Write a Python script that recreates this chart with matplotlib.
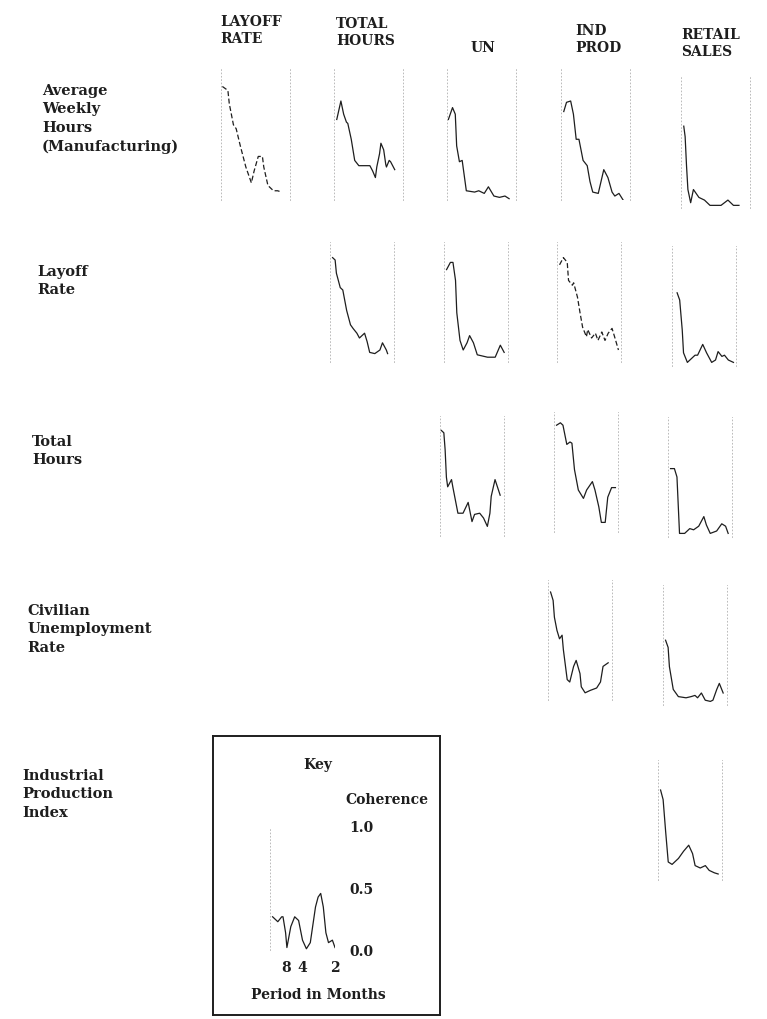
# Coherence matrix between business-cycle indicators
# Small multiples: coherence (0..1) against frequency (0..0.5 cycles/month)
import matplotlib.pyplot as plt

# ─── DATA ─────────────────────────────────────────────────────
COLUMNS = ["LAYOFF\nRATE", "TOTAL\nHOURS", "UN", "IND\nPROD", "RETAIL\nSALES"]
ROWS = ["Average\nWeekly\nHours\n(Manufacturing)", "Layoff\nRate", "Total\nHours",
        "Civilian\nUnemployment\nRate", "Industrial\nProduction\nIndex"]

# row: Average Weekly Hours
AWH_LAYOFF_F = [0.01, 0.05, 0.06, 0.09, 0.11, 0.14, 0.18, 0.22, 0.24, 0.27, 0.30, 0.31, 0.34, 0.38, 0.41, 0.44]
AWH_LAYOFF_C = [0.86, 0.83, 0.73, 0.57, 0.54, 0.41, 0.25, 0.13, 0.22, 0.33, 0.33, 0.25, 0.11, 0.07, 0.07, 0.06]
AWH_HOURS_F = [0.02, 0.05, 0.07, 0.09, 0.10, 0.125, 0.15, 0.18, 0.26, 0.28, 0.30, 0.31, 0.33, 0.34,
               0.36, 0.375, 0.38, 0.40, 0.41, 0.44]
AWH_HOURS_C = [0.61, 0.75, 0.65, 0.59, 0.58, 0.46, 0.30, 0.26, 0.26, 0.22, 0.17, 0.25, 0.35, 0.43,
               0.38, 0.27, 0.25, 0.30, 0.29, 0.23]
AWH_UN_F = [0.01, 0.04, 0.06, 0.07, 0.09, 0.11, 0.14, 0.20, 0.23, 0.27, 0.30, 0.34, 0.38, 0.42, 0.45]
AWH_UN_C = [0.61, 0.70, 0.65, 0.41, 0.29, 0.30, 0.07, 0.06, 0.07, 0.05, 0.10, 0.03, 0.02, 0.03, 0.01]
AWH_IP_F = [0.02, 0.04, 0.07, 0.09, 0.11, 0.13, 0.16, 0.19, 0.21, 0.23, 0.27, 0.29, 0.31, 0.34,
            0.37, 0.39, 0.42, 0.45]
AWH_IP_C = [0.67, 0.74, 0.75, 0.65, 0.46, 0.46, 0.30, 0.26, 0.14, 0.06, 0.05, 0.14, 0.23, 0.17,
            0.06, 0.03, 0.05, 0.00]
AWH_RS_F = [0.02, 0.03, 0.04, 0.05, 0.07, 0.09, 0.13, 0.17, 0.21, 0.29, 0.34, 0.38, 0.42]
AWH_RS_C = [0.62, 0.54, 0.32, 0.14, 0.04, 0.14, 0.08, 0.06, 0.02, 0.02, 0.06, 0.02, 0.02]

# row: Layoff Rate
LR_HOURS_F = [0.02, 0.04, 0.05, 0.08, 0.10, 0.13, 0.16, 0.18, 0.21, 0.23, 0.27, 0.29, 0.31, 0.35,
              0.39, 0.41, 0.44, 0.45]
LR_HOURS_C = [0.87, 0.85, 0.74, 0.62, 0.60, 0.43, 0.31, 0.28, 0.24, 0.20, 0.24, 0.17, 0.08, 0.07,
              0.10, 0.16, 0.10, 0.07]
LR_UN_F = [0.02, 0.05, 0.07, 0.09, 0.10, 0.125, 0.15, 0.18, 0.20, 0.23, 0.26, 0.34, 0.40, 0.44, 0.47]
LR_UN_C = [0.77, 0.83, 0.83, 0.68, 0.41, 0.18, 0.10, 0.16, 0.22, 0.16, 0.06, 0.04, 0.04, 0.14, 0.08]
LR_IP_F = [0.02, 0.05, 0.08, 0.09, 0.12, 0.13, 0.16, 0.18, 0.20, 0.23, 0.24, 0.27, 0.30, 0.32,
           0.35, 0.375, 0.40, 0.43, 0.45, 0.48]
LR_IP_C = [0.81, 0.87, 0.83, 0.68, 0.64, 0.66, 0.54, 0.41, 0.29, 0.21, 0.27, 0.20, 0.24, 0.18,
           0.25, 0.18, 0.24, 0.28, 0.21, 0.10]
LR_RS_F = [0.04, 0.06, 0.08, 0.09, 0.12, 0.16, 0.18, 0.20, 0.24, 0.27, 0.31, 0.34, 0.36, 0.39,
           0.41, 0.44, 0.48]
LR_RS_C = [0.61, 0.55, 0.30, 0.11, 0.03, 0.07, 0.09, 0.09, 0.18, 0.11, 0.03, 0.05, 0.12, 0.08,
           0.09, 0.05, 0.03]

# row: Total Hours
TH_UN_F = [0.01, 0.03, 0.04, 0.05, 0.06, 0.09, 0.10, 0.12, 0.14, 0.18, 0.22, 0.25, 0.27, 0.31,
           0.34, 0.37, 0.39, 0.40, 0.43, 0.47]
TH_UN_C = [0.88, 0.86, 0.72, 0.49, 0.41, 0.47, 0.41, 0.30, 0.19, 0.19, 0.28, 0.12, 0.18, 0.19,
           0.15, 0.08, 0.19, 0.33, 0.47, 0.34]
TH_IP_F = [0.02, 0.05, 0.07, 0.10, 0.125, 0.14, 0.16, 0.19, 0.23, 0.255, 0.30, 0.32, 0.35, 0.37,
           0.40, 0.42, 0.45, 0.48]
TH_IP_C = [0.89, 0.91, 0.89, 0.73, 0.75, 0.74, 0.52, 0.35, 0.28, 0.35, 0.42, 0.35, 0.21, 0.08,
           0.08, 0.29, 0.37, 0.37]
TH_RS_F = [0.02, 0.05, 0.07, 0.09, 0.13, 0.17, 0.20, 0.24, 0.28, 0.30, 0.33, 0.38, 0.42, 0.45, 0.47]
TH_RS_C = [0.57, 0.57, 0.50, 0.03, 0.03, 0.07, 0.06, 0.09, 0.17, 0.10, 0.03, 0.05, 0.11, 0.09, 0.03]

# row: Civilian Unemployment Rate
UN_IP_F = [0.02, 0.04, 0.05, 0.07, 0.09, 0.11, 0.12, 0.15, 0.17, 0.20, 0.22, 0.25, 0.26, 0.29,
           0.33, 0.38, 0.41, 0.43, 0.47]
UN_IP_C = [0.90, 0.83, 0.69, 0.58, 0.51, 0.54, 0.42, 0.17, 0.15, 0.28, 0.33, 0.22, 0.11, 0.06,
           0.08, 0.10, 0.15, 0.28, 0.31]
UN_RS_F = [0.02, 0.04, 0.05, 0.08, 0.12, 0.18, 0.22, 0.25, 0.27, 0.30, 0.33, 0.37, 0.39, 0.42, 0.44, 0.47]
UN_RS_C = [0.54, 0.48, 0.32, 0.13, 0.07, 0.06, 0.07, 0.08, 0.06, 0.10, 0.04, 0.03, 0.04, 0.13, 0.18, 0.10]

# row: Industrial Production Index
IP_RS_F = [0.02, 0.04, 0.06, 0.08, 0.11, 0.16, 0.20, 0.24, 0.27, 0.29, 0.33, 0.37, 0.40, 0.44, 0.47]
IP_RS_C = [0.75, 0.67, 0.40, 0.15, 0.13, 0.18, 0.24, 0.29, 0.22, 0.12, 0.10, 0.12, 0.08, 0.06, 0.05]

# key example curve
KEY_F = [0.02, 0.06, 0.09, 0.10, 0.12, 0.13, 0.16, 0.19, 0.22, 0.25, 0.28, 0.31, 0.35, 0.37,
         0.39, 0.41, 0.43, 0.45, 0.48, 0.50]
KEY_C = [0.27, 0.23, 0.27, 0.27, 0.14, 0.02, 0.19, 0.27, 0.24, 0.08, 0.01, 0.06, 0.35, 0.43,
         0.46, 0.35, 0.14, 0.06, 0.08, 0.02]
KEY_PERIODS = [8, 4, 2]
KEY_YTICKS = [0.0, 0.5, 1.0]

# (row, col) -> curve, dashed flag for the faint scanned traces
CURVES = [
    ((0, 0), AWH_LAYOFF_F, AWH_LAYOFF_C, True),
    ((0, 1), AWH_HOURS_F, AWH_HOURS_C, False),
    ((0, 2), AWH_UN_F, AWH_UN_C, False),
    ((0, 3), AWH_IP_F, AWH_IP_C, False),
    ((0, 4), AWH_RS_F, AWH_RS_C, False),
    ((1, 1), LR_HOURS_F, LR_HOURS_C, False),
    ((1, 2), LR_UN_F, LR_UN_C, False),
    ((1, 3), LR_IP_F, LR_IP_C, True),
    ((1, 4), LR_RS_F, LR_RS_C, False),
    ((2, 2), TH_UN_F, TH_UN_C, False),
    ((2, 3), TH_IP_F, TH_IP_C, False),
    ((2, 4), TH_RS_F, TH_RS_C, False),
    ((3, 3), UN_IP_F, UN_IP_C, False),
    ((3, 4), UN_RS_F, UN_RS_C, False),
    ((4, 4), IP_RS_F, IP_RS_C, False),
]

# ─── LAYOUT (pixels: left, bottom, width, height) ─────────────
W, H = 767, 1019
CELL_BOX = {
    (0, 0): (221, 200, 69, 132), (0, 1): (334, 200, 69, 132), (0, 2): (447, 200, 69, 132),
    (0, 3): (561, 200, 69, 132), (0, 4): (681, 208, 69, 132),
    (1, 1): (330, 362, 64, 120), (1, 2): (444, 362, 64, 120), (1, 3): (557, 362, 64, 120),
    (1, 4): (672, 366, 64, 120),
    (2, 2): (440, 536, 64, 120), (2, 3): (554, 532, 64, 120), (2, 4): (668, 537, 64, 120),
    (3, 3): (548, 700, 64, 120), (3, 4): (663, 705, 64, 120),
    (4, 4): (658, 880, 64, 120),
}
HEADER_POS = [(220, 15), (336, 17), (471, 41), (575, 24), (681, 28)]
ROW_POS = [(42, 84), (37, 265), (32, 435), (27, 604), (22, 769)]
# ──────────────────────────────────────────────────────────────

SERIF = "DejaVu Serif"
INK = "#1e1e1e"


def px_axes(fig, left, bottom, width, height):
    return fig.add_axes([left / W, (H - bottom) / H, width / W, height / H])


def fx(x):
    return x / W


def fy(y):
    return 1 - y / H


def style_panel(ax):
    ax.set_xlim(0, 0.5)
    ax.set_ylim(0, 1)
    ax.set_xticks([])
    ax.set_yticks([])
    ax.patch.set_alpha(0)
    for side in ["top", "bottom"]:
        ax.spines[side].set_visible(False)
    for side in ["left", "right"]:
        ax.spines[side].set_color("#b0b0b0")
        ax.spines[side].set_linewidth(0.6)
        ax.spines[side].set_linestyle((0, (1, 3)))


fig = plt.figure(figsize=(W / 100, H / 100), dpi=100)

for label, (x, y) in zip(COLUMNS, HEADER_POS):
    fig.text(fx(x), fy(y), label, ha="left", va="top", family=SERIF,
             fontweight="bold", fontsize=10, linespacing=1.3, color=INK)

for label, (x, y) in zip(ROWS, ROW_POS):
    fig.text(fx(x), fy(y), label, ha="left", va="top", family=SERIF,
             fontweight="bold", fontsize=10.5, linespacing=1.4, color=INK)

for cell, freq, coh, dashed in CURVES:
    ax = px_axes(fig, *CELL_BOX[cell])
    style_panel(ax)
    ax.plot(freq, coh, color=INK, linewidth=0.9,
            linestyle=(0, (4, 2)) if dashed else "-")

# key box
box = px_axes(fig, 213, 1015, 227, 279)
box.set_xticks([])
box.set_yticks([])
for s in box.spines.values():
    s.set_linewidth(1.4)
    s.set_color(INK)

key = px_axes(fig, 270, 950, 65, 123)
style_panel(key)
key.spines["right"].set_visible(False)
key.plot(KEY_F, KEY_C, color=INK, linewidth=0.9)
key.set_xticks([1 / p for p in KEY_PERIODS])
key.set_xticklabels([str(p) for p in KEY_PERIODS])
key.yaxis.tick_right()
key.set_yticks(KEY_YTICKS)
key.set_yticklabels([f"{v:.1f}" for v in KEY_YTICKS])
key.tick_params(axis="x", length=0, pad=8, labelsize=10)
key.tick_params(axis="y", length=0, pad=10, labelsize=10)
for t in key.get_xticklabels() + key.get_yticklabels():
    t.set_family(SERIF)
    t.set_fontweight("bold")
    t.set_color(INK)

fig.text(fx(318), fy(765), "Key", ha="center", va="center", family=SERIF,
         fontweight="bold", fontsize=10, color=INK)
fig.text(fx(345), fy(800), "Coherence", ha="left", va="center", family=SERIF,
         fontweight="bold", fontsize=10, color=INK)
fig.text(fx(318), fy(995), "Period in Months", ha="center", va="center", family=SERIF,
         fontweight="bold", fontsize=10, color=INK)

fig.savefig("out.png", dpi=100, facecolor="white")
